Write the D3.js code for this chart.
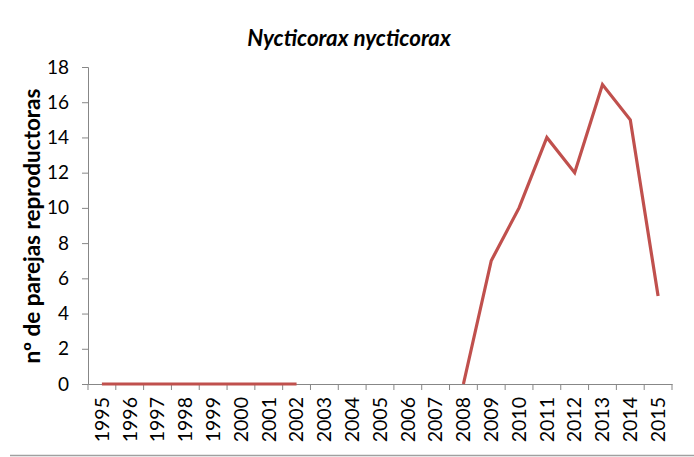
<!DOCTYPE html>
<html>
<head>
<meta charset="utf-8">
<script src="https://cdn.jsdelivr.net/npm/d3@7"></script>
<style>
  html, body { margin: 0; padding: 0; background: #fff; }
  svg { display: block; }
</style>
</head>
<body>
<svg id="chart" width="694" height="457"></svg>
<script>
// Breeding pairs of Nycticorax nycticorax per year (null = no count)
const years = ["1995","1996","1997","1998","1999","2000","2001","2002","2003","2004",
               "2005","2006","2007","2008","2009","2010","2011","2012","2013","2014","2015"];
const pairs = [0,0,0,0,0,0,0,0,null,null,null,null,null,0,7,10,14,12,17,15,5];
const yTicks = [0,2,4,6,8,10,12,14,16,18];

const svg = d3.select("#chart");
const margin = { left: 88, right: 22, top: 67, bottom: 73 };
const W = 694, H = 457;
const axisColor = "#878787";
const font = "Lato, 'Liberation Sans', sans-serif";

const x = d3.scaleBand().domain(years).range([margin.left, W - margin.right]);
const y = d3.scaleLinear().domain([0, 18]).range([H - margin.bottom, margin.top]);

// title
svg.append("text")
  .attr("x", 349).attr("y", 46)
  .attr("text-anchor", "middle")
  .attr("font-family", font)
  .attr("font-size", 22.3).attr("font-weight", "bold").attr("font-style", "italic")
  .attr("fill", "#000")
  .text("Nycticorax nycticorax");

// y axis
const yAxis = svg.append("g")
  .attr("transform", `translate(${margin.left},0)`)
  .call(d3.axisLeft(y).tickValues(yTicks).tickSize(6).tickPadding(13));
yAxis.selectAll("path, line").attr("stroke", axisColor);
yAxis.selectAll("text")
  .attr("font-family", font).attr("font-size", 19).attr("fill", "#000");

// x axis
const xAxis = svg.append("g")
  .attr("transform", `translate(0,${y(0)})`)
  .call(d3.axisBottom(x).tickSize(0).tickPadding(0));
xAxis.select("path").attr("stroke", axisColor);
xAxis.selectAll(".tick text")
  .attr("font-family", font).attr("font-size", 19.5).attr("fill", "#000")
  .attr("transform", "rotate(-90)")
  .attr("text-anchor", "end")
  .attr("dx", "-13px").attr("dy", "0.35em")
  .attr("y", 0).attr("x", 0);
// tick marks at category boundaries
const bounds = years.map(d => x(d)).concat([x(years[years.length - 1]) + x.bandwidth()]);
xAxis.selectAll(".bound")
  .data(bounds).enter().append("line")
  .attr("class", "bound")
  .attr("x1", d => d).attr("x2", d => d)
  .attr("y1", 0).attr("y2", 6)
  .attr("stroke", axisColor);

// y axis title
svg.append("text")
  .attr("transform", "translate(40,226) rotate(-90)")
  .attr("text-anchor", "middle")
  .attr("font-family", font)
  .attr("font-size", 22.5).attr("font-weight", "bold")
  .attr("fill", "#000")
  .text("nº de parejas reproductoras");

// data line
const line = d3.line()
  .defined(d => d.v !== null)
  .x(d => x(d.year) + x.bandwidth() / 2)
  .y(d => y(d.v));
svg.append("path")
  .datum(years.map((yr, i) => ({ year: yr, v: pairs[i] })))
  .attr("d", line)
  .attr("fill", "none")
  .attr("stroke", "#C0504D")
  .attr("stroke-width", 3.2)
  .attr("stroke-linejoin", "miter");

// bottom border rule
svg.append("line")
  .attr("x1", 10).attr("x2", 694)
  .attr("y1", 455.5).attr("y2", 455.5)
  .attr("stroke", "#a0a0a0").attr("stroke-width", 1.5);
</script>
</body>
</html>
